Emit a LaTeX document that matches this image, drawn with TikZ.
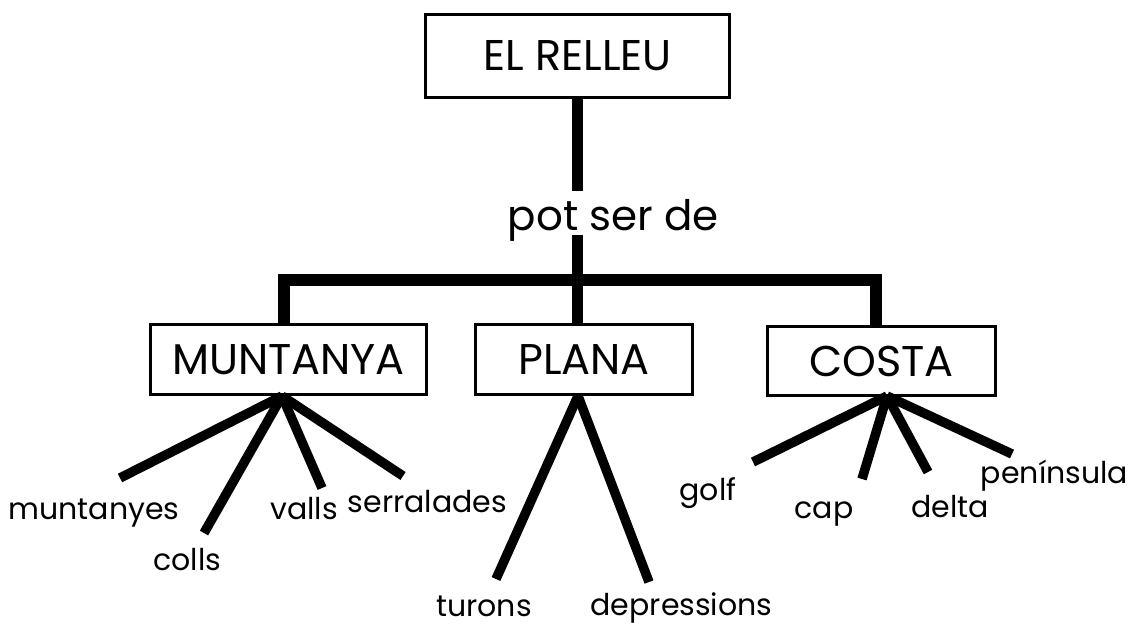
\documentclass[tikz,border=0pt]{standalone}
\usepackage{fontspec}
\setmainfont{Poppins}
\begin{document}
\begin{tikzpicture}[x=1pt,y=-1pt,
  box/.style={draw, line width=3.3pt, rectangle, inner sep=0pt, font=\fontsize{43}{47}\selectfont},
  trunk/.style={line width=11pt},
  bar/.style={line width=12pt, line join=miter},
  branch/.style={line width=9.5pt},
  leaf/.style={anchor=base, inner sep=0pt, font=\fontsize{30}{32}\selectfont},
  mid/.style={anchor=base, inner sep=0pt, font=\fontsize{42}{46}\selectfont}]
\useasboundingbox (0,0) rectangle (1131,625);
% boxes
\node[box, minimum width=303.7pt, minimum height=82.7pt] (root) at (577.5,56) {EL RELLEU};
\node[box, minimum width=275.7pt, minimum height=69.7pt] (mun) at (288.5,359.5) {MUNTANYA};
\node[box, minimum width=216.7pt, minimum height=69.7pt] (pla) at (584,359.5) {PLANA};
\node[box, minimum width=227.7pt, minimum height=68.7pt] (cos) at (881.5,361) {COSTA};
% middle text
\node[mid] (potser) at (613.5,230) {pot ser de};
% trunk and bar
\coordinate (j1) at (577.5,191);
\coordinate (j2) at (577.5,235);
\coordinate (bl) at (284,280);
\coordinate (br) at (876,280);
\draw[trunk] (root.south -| j1) -- (j1);
\draw[trunk] (j2) -- (j2 |- pla.north);
\draw[bar] (bl |- mun.north) -- (bl) -- (br) -- (br |- cos.north);
% leaves
\node[leaf] (muntanyes) at (94,519) {muntanyes};
\node[leaf] (colls) at (187.5,570) {colls};
\node[leaf] (valls) at (304,519) {valls};
\node[leaf] (serralades) at (427.5,512) {serralades};
\node[leaf] (turons) at (484,616) {turons};
\node[leaf] (depressions) at (681.5,615) {depressions};
\node[leaf] (golf) at (708,500) {golf};
\node[leaf] (cap) at (824,518) {cap};
\node[leaf] (delta) at (950,517) {delta};
\node[leaf] (peninsula) at (1054.5,483) {península};
% apexes
\coordinate (am) at (282,396);
\coordinate (ap) at (578,396);
\coordinate (ac) at (887,396);
% branch ends
\coordinate (e1) at (120,478);
\coordinate (e2) at (204,533);
\coordinate (e3) at (322,488);
\coordinate (e4) at (403,476);
\coordinate (e5) at (496,579);
\coordinate (e6) at (649,582);
\coordinate (e7) at (753,462);
\coordinate (e8) at (862,479);
\coordinate (e9) at (928,472);
\coordinate (e10) at (1012,454);
\foreach \e in {e1,e2,e3,e4} \draw[branch] (am) -- (\e);
\foreach \e in {e5,e6} \draw[branch] (ap) -- (\e);
\foreach \e in {e7,e8,e9,e10} \draw[branch] (ac) -- (\e);
\end{tikzpicture}
\end{document}
